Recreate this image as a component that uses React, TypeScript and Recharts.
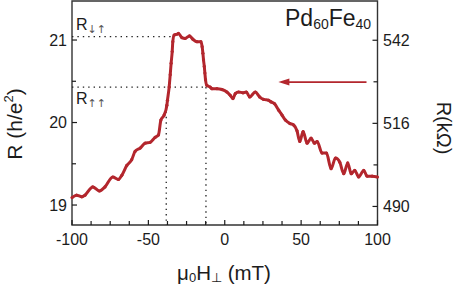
import {
  LineChart,
  Line,
  XAxis,
  YAxis,
  ReferenceLine,
  ReferenceArea,
} from "recharts";

// field sweep (mT)
const fieldMT = [
  -100, -97, -93.6, -91.5, -86.4, -82.1, -78.4, -73.3, -69.6, -67.4, -64.1,
  -60.9, -58.7, -55.4, -52.1, -48.9, -45.6, -43.4, -41.8, -39.7, -37.9, -37.5,
  -36.4, -35.7, -35.1, -34.4, -34.0, -33.1, -31.3, -30.3, -28.1, -25.9, -23.1,
  -20.9, -18.2, -15.6, -14.8, -14.3, -13.9, -13.4, -13.0, -12.6, -11.7, -9.5,
  -8.4, -5.1, -1.8, 1.4, 3.6, 5.4, 6.9, 9.1, 11.9, 14.1, 16.3, 20.0, 22.8,
  25.4, 28.7, 30.3, 32.5, 35.3, 37.5, 39.7, 42.5, 45.1, 47.3, 49.1, 51.3,
  53.9, 56.5, 58.7, 60.5, 63.7, 66.6, 69.6, 72.5, 75.3, 77.9, 80.5, 82.8,
  85.1, 87.7, 91.0, 93.2, 96.5, 100,
];
// resistance in h/e^2
const resistance = [
  19.09, 19.12, 19.1, 19.12, 19.22, 19.17, 19.22, 19.34, 19.31, 19.36, 19.48,
  19.55, 19.65, 19.69, 19.75, 19.76, 19.82, 19.85, 20.03, 20.09, 20.21, 20.27,
  20.43, 20.58, 20.72, 20.86, 20.98, 21.06, 21.07, 21.08, 21.03, 21.02, 21.05,
  21.01, 20.98, 20.98, 20.92, 20.84, 20.76, 20.68, 20.6, 20.52, 20.45, 20.43,
  20.41, 20.41, 20.4, 20.37, 20.33, 20.29, 20.35, 20.37, 20.36, 20.37, 20.31,
  20.37, 20.31, 20.28, 20.27, 20.25, 20.23, 20.15, 20.09, 20.03, 19.99, 19.97,
  19.9, 19.77, 19.89, 19.75, 19.81, 19.75, 19.77, 19.63, 19.63, 19.44, 19.57,
  19.52, 19.38, 19.51, 19.38, 19.42, 19.34, 19.42, 19.35, 19.35, 19.34,
];

const xTicks = [
  -100, -87.5, -75, -62.5, -50, -37.5, -25, -12.5, 0, 12.5, 25, 37.5, 50, 62.5,
  75, 87.5, 100,
];
const xLabels = [-100, -50, 0, 50, 100];
const leftTicks = [19, 19.5, 20, 20.5, 21];
const leftLabels = [19, 20, 21];
const rightTicks = [490, 503, 516, 529, 542];
const rightLabels = [490, 516, 542];

// state levels and switching fields
const rAntiParallel = 21.04;
const rParallel = 20.43;
const switchFields = [-38.3, -12.3];
const arrowFrom = 92.8;
const arrowTo = 35.1;
const arrowLevel = 20.49;

const H_E2 = 25.8128; // kOhm per h/e^2
const yLo = 18.758;
const yHi = 21.473;

const data = fieldMT.map((h, i) => ({ h, r: resistance[i] }));

const W = 463;
const H = 286;
const PL = 72;
const PR = 377.5;
const PB = 225;
const RED = "#B3262D";
const INK = "#1c1c1c";
const FONT = "'Liberation Sans', Arial, Helvetica, sans-serif";

const XTick = (props: any) => {
  const { x, payload } = props;
  const major = xLabels.includes(payload.value);
  return (
    <g>
      <line x1={x} x2={x} y1={PB} y2={PB - (major ? 5 : 4)} stroke={INK} strokeWidth={1.2} />
      {major && (
        <text x={x} y={PB + 20} textAnchor="middle" fontSize={16} fill={INK} fontFamily={FONT}>
          {payload.value}
        </text>
      )}
    </g>
  );
};

const LeftTick = (props: any) => {
  const { y, payload } = props;
  const major = leftLabels.includes(payload.value);
  return (
    <g>
      <line x1={PL} x2={PL + (major ? 5 : 4)} y1={y} y2={y} stroke={INK} strokeWidth={1.2} />
      {major && (
        <text x={PL - 5} y={y + 5.5} textAnchor="end" fontSize={16} fill={INK} fontFamily={FONT}>
          {payload.value}
        </text>
      )}
    </g>
  );
};

const RightTick = (props: any) => {
  const { y, payload } = props;
  const major = rightLabels.includes(payload.value);
  return (
    <g>
      <line x1={PR - (major ? 5 : 4)} x2={PR} y1={y} y2={y} stroke={INK} strokeWidth={1.2} />
      {major && (
        <text x={PR + 5.5} y={y + 5.5} textAnchor="start" fontSize={16} fill={INK} fontFamily={FONT}>
          {payload.value}
        </text>
      )}
    </g>
  );
};

const ArrowShape = (props: any) => {
  const { x1, y1, x2, y2 } = props;
  const tip = Math.min(x1, x2);
  const tail = Math.max(x1, x2);
  const y = (y1 + y2) / 2;
  return (
    <g>
      <line x1={tail} x2={tip + 8} y1={y} y2={y} stroke={RED} strokeWidth={1.6} />
      <polygon points={`${tip},${y} ${tip + 11},${y - 3.5} ${tip + 11},${y + 3.5}`} fill={RED} />
    </g>
  );
};

const dotted = { stroke: "#222", strokeWidth: 1.3, strokeDasharray: "1.4 4" };

export default function App() {
  return (
    <div style={{ position: "absolute", left: 0, top: 0, width: W, height: H, background: "#fff" }}>
      <LineChart width={W} height={H} data={data} margin={{ top: 1, right: 0, bottom: 0, left: 0 }}>
        <XAxis
          dataKey="h"
          type="number"
          domain={[-100, 100]}
          ticks={xTicks}
          interval={0}
          height={61}
          axisLine={false}
          tickLine={false}
          tick={<XTick />}
        />
        <YAxis
          yAxisId="left"
          type="number"
          domain={[yLo, yHi]}
          ticks={leftTicks}
          interval={0}
          width={PL}
          axisLine={false}
          tickLine={false}
          tick={<LeftTick />}
          allowDataOverflow
        />
        <YAxis
          yAxisId="right"
          orientation="right"
          type="number"
          domain={[yLo * H_E2, yHi * H_E2]}
          ticks={rightTicks}
          interval={0}
          width={W - PR}
          axisLine={false}
          tickLine={false}
          tick={<RightTick />}
          allowDataOverflow
        />
        <ReferenceArea
          yAxisId="left"
          x1={-100}
          x2={100}
          y1={yLo}
          y2={yHi}
          fill="none"
          stroke="#333"
          strokeWidth={1.4}
          ifOverflow="visible"
        />
        <ReferenceLine
          yAxisId="left"
          segment={[{ x: -100, y: rAntiParallel }, { x: -34, y: rAntiParallel }]}
          {...dotted}
        />
        <ReferenceLine
          yAxisId="left"
          segment={[{ x: -100, y: rParallel }, { x: -12, y: rParallel }]}
          {...dotted}
        />
        <ReferenceLine
          yAxisId="left"
          segment={[{ x: switchFields[0], y: 20.2 }, { x: switchFields[0], y: yLo }]}
          {...dotted}
        />
        <ReferenceLine
          yAxisId="left"
          segment={[{ x: switchFields[1], y: rParallel }, { x: switchFields[1], y: yLo }]}
          {...dotted}
        />
        <ReferenceLine
          yAxisId="left"
          segment={[{ x: arrowFrom, y: arrowLevel }, { x: arrowTo, y: arrowLevel }]}
          shape={<ArrowShape />}
        />
        <Line
          yAxisId="left"
          dataKey="r"
          type="monotone"
          stroke={RED}
          strokeWidth={3}
          strokeLinejoin="round"
          dot={{ r: 1.6, fill: RED, stroke: "none" }}
          isAnimationActive={false}
        />
      </LineChart>

      <svg
        width={W}
        height={H}
        style={{ position: "absolute", left: 0, top: 0, pointerEvents: "none" }}
        fontFamily={FONT}
        fill={INK}
      >
        <text x={76} y={30} fontSize={16}>
          R<tspan fontSize={11} fontFamily="'DejaVu Sans', sans-serif" fill="#555" dy={3}>↓↑</tspan>
        </text>
        <text x={76} y={104} fontSize={16}>
          R<tspan fontSize={11} fontFamily="'DejaVu Sans', sans-serif" fill="#555" dy={3}>↑↑</tspan>
        </text>
        <text x={285} y={26} fontSize={23}>
          Pd<tspan fontSize={14} dy={3}>60</tspan>
          <tspan dy={-3}>Fe</tspan>
          <tspan fontSize={14} dy={3}>40</tspan>
        </text>
        <text transform="translate(22,124) rotate(-90)" textAnchor="middle" fontSize={21}>
          R (h/e<tspan fontSize={13} dy={-9}>2</tspan>
          <tspan dy={9}>)</tspan>
        </text>
        <text transform="translate(437,128) rotate(90)" textAnchor="middle" fontSize={20}>
          R(kΩ)
        </text>
        <text x={224} y={280} textAnchor="middle" fontSize={20.5}>
          μ<tspan fontSize={13} dy={2}>0</tspan>
          <tspan dy={-2}>H</tspan>
          <tspan fontSize={13} dy={2}>⊥</tspan>
          <tspan dy={-2}> (mT)</tspan>
        </text>
      </svg>
    </div>
  );
}
